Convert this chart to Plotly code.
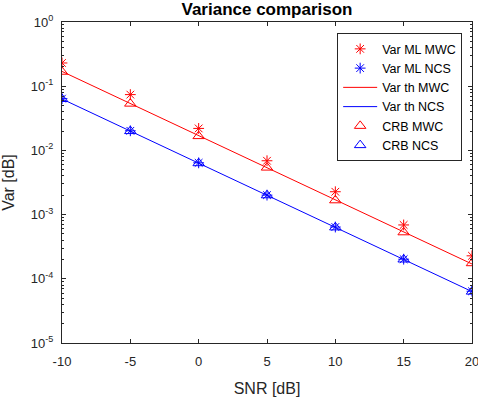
import plotly.graph_objects as go

snr = [-10, -5, 0, 5, 10, 15, 20]
var_ml_mwc = [0.23, 0.074, 0.022, 0.0069, 0.00227, 0.00069, 0.000228]
var_ml_ncs = [0.064, 0.0202, 0.0064, 0.00201, 0.00064, 0.000202, 0.000064]
var_th_mwc = [0.17, 0.054, 0.017, 0.0054, 0.0017, 0.00054, 0.00017]
var_th_ncs = [0.0632, 0.02, 0.00632, 0.002, 0.000632, 0.0002, 0.0000632]
crb_mwc = [0.168, 0.0535, 0.0167, 0.0054, 0.00167, 0.00053, 0.000175]
crb_ncs = [0.0632, 0.02, 0.00632, 0.002, 0.000632, 0.0002, 0.0000632]

y_tickvals = [1e-5, 1e-4, 1e-3, 1e-2, 1e-1, 1e0]
y_ticktext = ["10<sup>-5</sup>", "10<sup>-4</sup>", "10<sup>-3</sup>",
              "10<sup>-2</sup>", "10<sup>-1</sup>", "10<sup>0</sup>"]
x_tickvals = [-10, -5, 0, 5, 10, 15, 20]
x_ticktext = ["-10", "-5", "0", "5", "10", "15", "20"]

RED = "#ff0000"
BLUE = "#0000ff"
AX = "#262626"

fig = go.Figure()
fig.add_trace(go.Scatter(x=snr, y=var_ml_mwc, mode="markers", name="Var ML MWC",
                         marker=dict(symbol="asterisk-open", size=9, color=RED,
                                     line=dict(color=RED, width=1))))
fig.add_trace(go.Scatter(x=snr, y=var_ml_ncs, mode="markers", name="Var ML NCS",
                         marker=dict(symbol="asterisk-open", size=9, color=BLUE,
                                     line=dict(color=BLUE, width=1))))
fig.add_trace(go.Scatter(x=snr, y=var_th_mwc, mode="lines", name="Var th MWC",
                         line=dict(color=RED, width=1)))
fig.add_trace(go.Scatter(x=snr, y=var_th_ncs, mode="lines", name="Var th NCS",
                         line=dict(color=BLUE, width=1)))
fig.add_trace(go.Scatter(x=snr, y=crb_mwc, mode="markers", name="CRB MWC",
                         marker=dict(symbol="triangle-up-open", size=10, color=RED,
                                     line=dict(color=RED, width=1))))
fig.add_trace(go.Scatter(x=snr, y=crb_ncs, mode="markers", name="CRB NCS",
                         marker=dict(symbol="triangle-up-open", size=10, color=BLUE,
                                     line=dict(color=BLUE, width=1))))

minor_vals = []
for e in range(-5, 0):
    for m in range(2, 10):
        minor_vals.append(m * 10 ** e)

font_family = "Liberation Sans, Arial, sans-serif"

fig.update_layout(
    width=478, height=397,
    margin=dict(l=62, r=6, t=22, b=54),
    paper_bgcolor="white", plot_bgcolor="white",
    font=dict(family=font_family, size=13, color=AX),
    title=dict(text="<b>Variance comparison</b>", x=0.5, xref="paper",
               y=0.976, yref="container", yanchor="middle", pad=dict(t=0, b=0),
               font=dict(size=17, color="black", family=font_family)),
    showlegend=True,
    legend=dict(x=0.976, y=0.965, xanchor="right", yanchor="top",
                bgcolor="white", bordercolor=AX, borderwidth=1,
                font=dict(size=12.5, color="black"), tracegroupgap=0,
                itemwidth=34),
    xaxis=dict(range=[-10, 20], tickmode="array", tickvals=x_tickvals,
               ticktext=x_ticktext, ticklabeloverflow="allow", automargin=False,
               ticklabelstandoff=6,
               ticks="inside", ticklen=4, tickcolor=AX, showline=True,
               linecolor=AX, linewidth=1, mirror="ticks", showgrid=False,
               zeroline=False, tickfont=dict(size=13, color=AX),
               title=dict(text="SNR [dB]", font=dict(size=16, color=AX))),
    yaxis=dict(type="log", range=[-5, 0], tickmode="array", tickvals=y_tickvals,
               ticktext=y_ticktext, ticks="inside", ticklen=4, tickcolor=AX,
               automargin=False, ticklabelstandoff=5,
               showline=True, linecolor=AX, linewidth=1, mirror="ticks",
               showgrid=False, zeroline=False, tickfont=dict(size=13, color=AX),
               minor=dict(tickmode="array", tickvals=minor_vals, ticks="inside",
                          ticklen=2, tickcolor=AX, showgrid=False),
               title=dict(text="Var [dB]", font=dict(size=16, color=AX))),
)

fig.write_html("out.html", config={"displayModeBar": False},
               post_script="document.body.style.margin='0';")
